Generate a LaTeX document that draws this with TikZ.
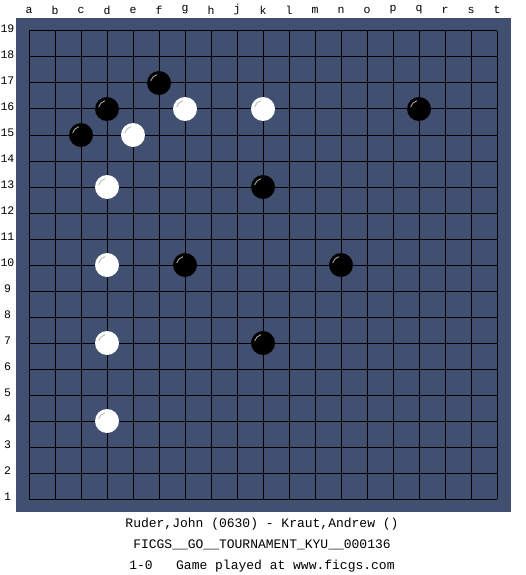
\documentclass[tikz,border=0pt]{standalone}
\usepackage{fontspec}
\setmonofont{Liberation Mono}
\usepackage{xcolor}
\usetikzlibrary{positioning}

\definecolor{boardblue}{HTML}{414F70}

\begin{document}
\begin{tikzpicture}[
    x=1pt, y=-1pt,
    every node/.style={font=\ttfamily},
    gridline/.style={draw=black, line width=1pt},
    coordlabel/.style={font=\ttfamily\fontsize{11.5}{11.5}\selectfont, inner sep=0pt},
    stone/.style={circle, minimum size=24pt, inner sep=0pt},
    blackstone/.style={stone, fill=black},
    whitestone/.style={stone, fill=white},
    gleam/.style={line width=0.9pt, line cap=round},
    infoline/.style={font=\ttfamily\fontsize{13}{13}\selectfont, inner sep=0pt}
  ]
    \useasboundingbox (0,0) rectangle (525,575);
    \fill[white] (0,0) rectangle (525,575);

    % Board
    \fill[boardblue] (16,18) rectangle (511,512);
    \foreach \k in {0,...,18} {
      \draw[gridline] (29+26*\k,31) -- (29+26*\k,499);
      \draw[gridline] (29,31+26*\k) -- (497,31+26*\k);
    }

    % Coordinates
    \foreach \c [count=\k from 0] in {a,b,c,d,e,f,g,h,j,k,l,m,n,o,p,q,r,s,t}
      \node[coordlabel] (col-\c) at (29+26*\k,10) {\c};
    \foreach \r in {1,...,19}
      \node[coordlabel] (row-\r) at (7.5,29+26*19-26*\r) {\r};

    % Black stones
    \node[blackstone] (f17) at (159,83) {};
    \node[blackstone] (d16) at (107,109) {};
    \node[blackstone] (c15) at (81,135) {};
    \node[blackstone] (q16) at (419,109) {};
    \node[blackstone] (k13) at (263,187) {};
    \node[blackstone] (g10) at (185,265) {};
    \node[blackstone] (n10) at (341,265) {};
    \node[blackstone] (k7) at (263,343) {};

    % White stones
    \node[whitestone] (g16) at (185,109) {};
    \node[whitestone] (k16) at (263,109) {};
    \node[whitestone] (e15) at (133,135) {};
    \node[whitestone] (d13) at (107,187) {};
    \node[whitestone] (d10) at (107,265) {};
    \node[whitestone] (d7) at (107,343) {};
    \node[whitestone] (d4) at (107,421) {};

    % Gleams (y runs downwards, so up-left is 195..255)
    \foreach \s in {f17,d16,c15,q16,k13,g10,n10,k7}
      \draw[gleam, gray!70] ([shift={(195:8.5)}]\s.center) arc[start angle=195, end angle=255, radius=8.5];
    \foreach \s in {g16,k16,e15,d13,d10,d7,d4}
      \draw[gleam, gray!55] ([shift={(195:8.5)}]\s.center) arc[start angle=195, end angle=255, radius=8.5];

    % Game info
    \node[infoline] (players) at (262,524) {Ruder,John (0630) - Kraut,Andrew ()};
    \node[infoline] (event) at (262,545) {FICGS\_\_GO\_\_TOURNAMENT\_KYU\_\_000136};
    \node[infoline] (result) at (262,566) {1-0\ \ \ Game played at www.ficgs.com};
\end{tikzpicture}
\end{document}
